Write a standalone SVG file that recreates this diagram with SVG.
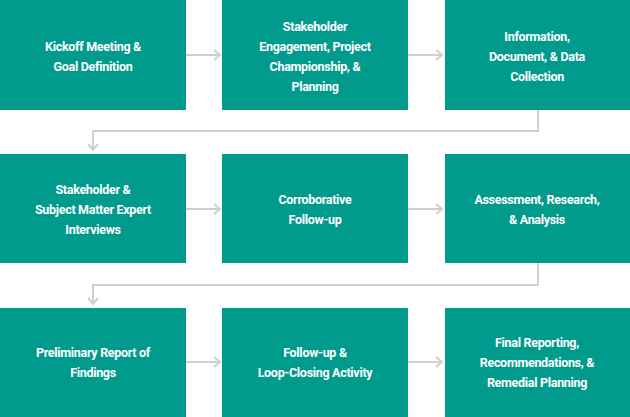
<svg xmlns="http://www.w3.org/2000/svg" width="630" height="417" viewBox="0 0 630 417">
<defs>
<style>
.box{fill:#009B8D}
.t{font-family:Roboto,"Liberation Sans",sans-serif;font-weight:bold;font-size:12.5px;fill:#fff;text-anchor:middle;letter-spacing:-0.3px}
.c{fill:none;stroke:#cfcfcf;stroke-width:2}
</style>
<marker id="a" markerWidth="10" markerHeight="12" refX="8" refY="6" orient="auto" markerUnits="userSpaceOnUse">
<path d="M2,1 L8,6 L2,11" fill="none" stroke="#cfcfcf" stroke-width="2"/>
</marker>
</defs>
<g id="connectors">
<path class="c" d="M186,55 H220" marker-end="url(#a)"/>
<path class="c" d="M408,55 H442" marker-end="url(#a)"/>
<path class="c" d="M538,110 V131 H93 V150" marker-end="url(#a)"/>
<path class="c" d="M186,209 H220" marker-end="url(#a)"/>
<path class="c" d="M408,209 H442" marker-end="url(#a)"/>
<path class="c" d="M538,263 V285 H93 V304" marker-end="url(#a)"/>
<path class="c" d="M186,362 H220" marker-end="url(#a)"/>
<path class="c" d="M408,362 H442" marker-end="url(#a)"/>
</g>
<g id="n1"><rect class="box" x="0" y="0" width="186" height="110"/><text class="t" x="93" y="51">Kickoff Meeting &amp;</text><text class="t" x="93" y="71">Goal Definition</text></g>
<g id="n2"><rect class="box" x="222" y="0" width="186" height="110"/><text class="t" x="315" y="31">Stakeholder</text><text class="t" x="315" y="51">Engagement, Project</text><text class="t" x="315" y="71">Championship, &amp;</text><text class="t" x="315" y="91">Planning</text></g>
<g id="n3"><rect class="box" x="445" y="0" width="185" height="110"/><text class="t" x="537" y="41">Information,</text><text class="t" x="537" y="61">Document, &amp; Data</text><text class="t" x="537" y="81">Collection</text></g>
<g id="n4"><rect class="box" x="0" y="154" width="186" height="109"/><text class="t" x="93" y="194">Stakeholder &amp;</text><text class="t" x="93" y="214">Subject Matter Expert</text><text class="t" x="93" y="234">Interviews</text></g>
<g id="n5"><rect class="box" x="222" y="154" width="186" height="109"/><text class="t" x="315" y="204">Corroborative</text><text class="t" x="315" y="224">Follow-up</text></g>
<g id="n6"><rect class="box" x="445" y="154" width="185" height="109"/><text class="t" x="537" y="204">Assessment, Research,</text><text class="t" x="537" y="224">&amp; Analysis</text></g>
<g id="n7"><rect class="box" x="0" y="308" width="186" height="109"/><text class="t" x="93" y="357">Preliminary Report of</text><text class="t" x="93" y="377">Findings</text></g>
<g id="n8"><rect class="box" x="222" y="308" width="186" height="109"/><text class="t" x="315" y="357">Follow-up &amp;</text><text class="t" x="315" y="377">Loop-Closing Activity</text></g>
<g id="n9"><rect class="box" x="445" y="308" width="185" height="109"/><text class="t" x="537" y="347">Final Reporting,</text><text class="t" x="537" y="367">Recommendations, &amp;</text><text class="t" x="537" y="387">Remedial Planning</text></g>
</svg>
